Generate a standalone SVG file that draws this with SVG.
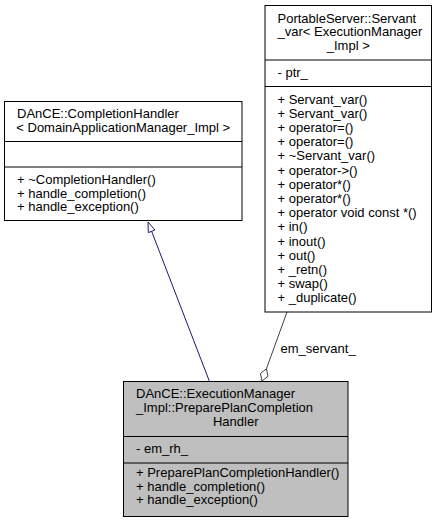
<svg xmlns="http://www.w3.org/2000/svg" width="437" height="523" viewBox="0 0 437 523">
<style>
text{font-family:"Liberation Sans",Arial,Helvetica,sans-serif;font-size:13px;fill:#000}
.c{text-anchor:middle}
.box{fill:#fff;stroke:#000;stroke-width:1}
.cur{fill:#bfbfbf;stroke:#000;stroke-width:1}
.sep{stroke:#000;stroke-width:1}
.inh{stroke:#191970;stroke-width:1;fill:none}
.agg{stroke:#404040;stroke-width:1;fill:none}
</style>
<rect width="437" height="523" fill="#fff"/>
<g id="connectors">
<line class="inh" x1="209.3" y1="381" x2="151.6" y2="231.3"/>
<polygon points="148,222 154.9,230 148.3,232.6" fill="#fff" stroke="#191970" stroke-width="1"/>
<line class="agg" x1="287" y1="312" x2="266.4" y2="368.8"/>
<polygon points="262,381 268,376.3 266.4,368.8 260.4,373.5" fill="#fff" stroke="#404040" stroke-width="1"/>
<text x="280.5" y="353">em_servant_</text>
</g>
<g id="node-completion-handler">
<rect class="box" x="4.5" y="101.5" width="237.5" height="119"/>
<line class="sep" x1="4.5" y1="141.5" x2="242" y2="141.5"/>
<line class="sep" x1="4.5" y1="167" x2="242" y2="167"/>
<text x="17" y="118">DAnCE::CompletionHandler</text>
<text class="c" x="123.25" y="131.5">&lt; DomainApplicationManager_Impl &gt;</text>
<text x="17" y="184">+ ~CompletionHandler()</text>
<text x="17" y="197.5">+ handle_completion()</text>
<text x="17" y="211">+ handle_exception()</text>
</g>
<g id="node-servant-var">
<rect class="box" x="265" y="5.5" width="166.5" height="306.5"/>
<line class="sep" x1="265" y1="60" x2="431.5" y2="60"/>
<line class="sep" x1="265" y1="86.5" x2="431.5" y2="86.5"/>
<text x="277.5" y="22.5">PortableServer::Servant</text>
<text x="277.5" y="36">_var&lt; ExecutionManager</text>
<text class="c" x="348.25" y="49.5">_Impl &gt;</text>
<text x="277.5" y="76.5">- ptr_</text>
<text x="277.5" y="103.5">+ Servant_var()</text>
<text x="277.5" y="117.7">+ Servant_var()</text>
<text x="277.5" y="131.9">+ operator=()</text>
<text x="277.5" y="146.1">+ operator=()</text>
<text x="277.5" y="160.3">+ ~Servant_var()</text>
<text x="277.5" y="174.5">+ operator-&gt;()</text>
<text x="277.5" y="188.7">+ operator*()</text>
<text x="277.5" y="202.9">+ operator*()</text>
<text x="277.5" y="217.1">+ operator void const *()</text>
<text x="277.5" y="231.3">+ in()</text>
<text x="277.5" y="245.5">+ inout()</text>
<text x="277.5" y="259.7">+ out()</text>
<text x="277.5" y="273.9">+ _retn()</text>
<text x="277.5" y="288.1">+ swap()</text>
<text x="277.5" y="302.3">+ _duplicate()</text>
</g>
<g id="node-prepare-plan-completion-handler">
<rect class="cur" x="123.5" y="381.5" width="224.5" height="135"/>
<line class="sep" x1="123.5" y1="436.5" x2="348" y2="436.5"/>
<line class="sep" x1="123.5" y1="463" x2="348" y2="463"/>
<text x="136" y="398">DAnCE::ExecutionManager</text>
<text x="136" y="412">_Impl::PreparePlanCompletion</text>
<text class="c" x="235.75" y="426">Handler</text>
<text x="136" y="452.5">- em_rh_</text>
<text x="136" y="477">+ PreparePlanCompletionHandler()</text>
<text x="136" y="490.5">+ handle_completion()</text>
<text x="136" y="504">+ handle_exception()</text>
</g>
</svg>
